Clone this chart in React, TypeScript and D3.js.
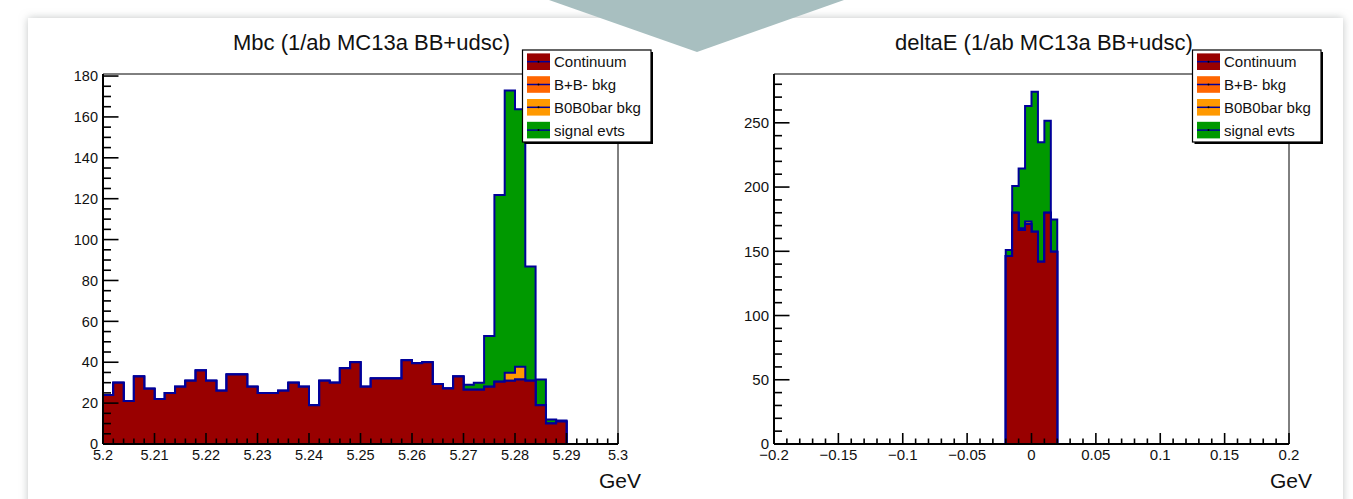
import React from "react";
import * as d3 from "d3";

const W = 1353;
const H = 499;

// ---------------- Mbc histogram (50 bins, 5.20 - 5.30 GeV) ----------------
const mbcRange = [5.2, 5.3];
const mbcBinStart = 5.2;
const mbcBinWidth = 0.002;
const mbcContinuum = [
  24, 30, 21, 33, 27, 22, 25, 28, 31, 36,
  31, 26, 34, 34, 28, 25, 25, 26, 30, 28,
  19, 31, 30, 37, 40, 28, 32, 32, 32, 41,
  39.5, 40, 29.4, 27.2, 33, 26.5, 26.5, 28, 30.5, 31,
  31.6, 31, 19, 10, 11, 0, 0, 0, 0, 0,
];
const mbcBpBm = [
  0, 0, 0, 0, 0, 0, 0, 0, 0, 0,
  0, 0, 0, 0, 0, 0, 0, 0, 0, 0,
  0, 0, 0, 0, 0, 0, 0, 0, 0, 0,
  0, 0, 0, 0, 0, 0, 0, 0, 0, 0,
  0, 0, 0, 0, 0, 0, 0, 0, 0, 0,
];
const mbcB0B0bar = [
  0, 0, 0, 0, 0, 0, 0, 0, 0, 0,
  0, 0, 0, 0, 0, 0, 0, 0, 0, 0,
  0, 0, 0, 0, 0, 0, 0, 0, 0, 0,
  0, 0, 0, 0, 0, 0, 0, 0, 0, 3.9,
  6.2, 0, 0, 0, 0, 0, 0, 0, 0, 0,
];
const mbcSignal = [
  0, 0, 0, 0, 0, 0, 0, 0, 0, 0,
  0, 0, 0, 0, 0, 0, 0, 0, 0, 0,
  0, 0, 0, 0, 0, 0, 0, 0, 0, 0,
  0, 0, 0, 0, 0, 2.5, 3.5, 24.8, 91.3, 138,
  126, 55.8, 12.6, 2, 0.5, 0, 0, 0, 0, 0,
];
const mbcYMax = 181;
const mbcYTicks = [0, 20, 40, 60, 80, 100, 120, 140, 160, 180];
const mbcXTicks = [5.2, 5.21, 5.22, 5.23, 5.24, 5.25, 5.26, 5.27, 5.28, 5.29, 5.3];
const mbcXTickLabels = ["5.2", "5.21", "5.22", "5.23", "5.24", "5.25", "5.26", "5.27", "5.28", "5.29", "5.3"];

// ---------------- deltaE histogram (bins of 0.005 GeV, -0.2 - 0.2) ----------------
const deRange = [-0.2, 0.2];
const deBinStart = -0.02;
const deBinWidth = 0.005;
const deContinuum = [146.3, 180, 166.5, 171.2, 165.2, 141.9, 180, 149.7];
const deBpBm = [0, 0, 0, 0, 0, 0, 0, 0];
const deB0B0bar = [0, 0, 1.5, 2, 0, 0, 0, 0];
const deSignal = [4.7, 20.8, 46.5, 89.8, 109, 92.9, 71.6, 25.1];
const deYMax = 288;
const deYTicks = [0, 50, 100, 150, 200, 250];
const deXTicks = [-0.2, -0.15, -0.1, -0.05, 0, 0.05, 0.1, 0.15, 0.2];
const deXTickLabels = ["\u22120.2", "\u22120.15", "\u22120.1", "\u22120.05", "0", "0.05", "0.1", "0.15", "0.2"];

const legendNames = ["Continuum", "B+B- bkg", "B0B0bar bkg", "signal evts"];
const colors = ["#990000", "#ff6600", "#ff9900", "#009900"];
const OUTLINE = "#000099";
const FONT = "'Liberation Sans', Arial, Helvetica, sans-serif";

type HistProps = {
  frame: { x0: number; x1: number; y0: number; y1: number };
  xRange: number[];
  yMax: number;
  binStart: number;
  binWidth: number;
  series: number[][]; // bottom -> top
  xTicks: number[];
  xTickLabels: string[];
  xMinorStep: number;
  yTicks: number[];
  yMinorStep: number;
  title: string;
  titleX: number;
  legendX: number;
  tickFont: number;
};

function Hist(p: HistProps) {
  const { frame } = p;
  const x = d3.scaleLinear().domain(p.xRange).range([frame.x0, frame.x1]);
  const y = d3.scaleLinear().domain([0, p.yMax]).range([frame.y1, frame.y0]);
  const n = p.series[0].length;

  // cumulative stacks
  const cum: number[][] = [];
  p.series.forEach((s, k) => {
    cum.push(s.map((v, i) => v + (k > 0 ? cum[k - 1][i] : 0)));
  });

  type Pt = { x: number; v: number };
  const pts = (c: number[]): Pt[] => {
    const a: Pt[] = [{ x: p.xRange[0], v: 0 }, { x: p.binStart, v: 0 }];
    c.forEach((v, i) => a.push({ x: p.binStart + i * p.binWidth, v }));
    a.push({ x: p.binStart + n * p.binWidth, v: 0 });
    a.push({ x: p.xRange[1], v: 0 });
    return a;
  };
  const area = d3
    .area<Pt>()
    .x((d) => x(d.x))
    .y0(y(0))
    .y1((d) => y(d.v))
    .curve(d3.curveStepAfter);
  const line = d3
    .line<Pt>()
    .x((d) => x(d.x))
    .y((d) => y(d.v))
    .curve(d3.curveStepAfter);

  const order = [3, 2, 1, 0];

  // ticks
  const xMinorCount = Math.round((p.xRange[1] - p.xRange[0]) / p.xMinorStep);
  const xMinor = d3.range(xMinorCount + 1).map((i) => p.xRange[0] + i * p.xMinorStep);
  const yMinorCount = Math.floor(p.yMax / p.yMinorStep + 1e-9);
  const yMinor = d3.range(yMinorCount + 1).map((i) => i * p.yMinorStep);

  const legend = { x: p.legendX, y: 50, w: 128.5, h: 92 };

  return (
    <g>
      <rect x={frame.x0} y={frame.y0} width={frame.x1 - frame.x0} height={frame.y1 - frame.y0} fill="#fff" />
      {order.map((k) => (
        <g key={k}>
          <path d={area(pts(cum[k])) || ""} fill={colors[k]} stroke="none" />
          <path d={line(pts(cum[k])) || ""} fill="none" stroke={OUTLINE} strokeWidth={2} />
        </g>
      ))}
      {/* frame */}
      <line x1={frame.x0} x2={frame.x1} y1={frame.y0} y2={frame.y0} stroke="#000" strokeWidth={1} />
      <line x1={frame.x1} x2={frame.x1} y1={frame.y0} y2={frame.y1} stroke="#000" strokeWidth={1} />
      {/* y axis */}
      <line x1={frame.x0} x2={frame.x0} y1={frame.y0} y2={frame.y1} stroke="#000" strokeWidth={2} />
      {yMinor.map((v, i) => {
        const major = p.yTicks.some((t) => Math.abs(t - v) < 1e-9);
        return (
          <line key={"ym" + i} x1={frame.x0} x2={frame.x0 + (major ? 15.5 : 8)} y1={y(v)} y2={y(v)} stroke="#000" strokeWidth={1.6} />
        );
      })}
      {p.yTicks.map((t) => (
        <text key={"yl" + t} x={frame.x0 - 5} y={y(t)} dy="0.36em" textAnchor="end" fontFamily={FONT} fontSize={p.tickFont} fill="#111">
          {t}
        </text>
      ))}
      {/* x axis */}
      <line x1={frame.x0} x2={frame.x1} y1={frame.y1} y2={frame.y1} stroke="#000" strokeWidth={2} />
      {xMinor.map((v, i) => {
        const major = p.xTicks.some((t) => Math.abs(t - v) < 1e-9);
        return (
          <line key={"xm" + i} x1={x(v)} x2={x(v)} y1={frame.y1} y2={frame.y1 - (major ? 11 : 5.5)} stroke="#000" strokeWidth={1.6} />
        );
      })}
      {p.xTicks.map((t, i) => (
        <text key={"xl" + i} x={x(t)} y={frame.y1 + 16} textAnchor="middle" fontFamily={FONT} fontSize={p.tickFont} fill="#111">
          {p.xTickLabels[i]}
        </text>
      ))}
      <text x={frame.x1 + 23} y={488} textAnchor="end" fontFamily={FONT} fontSize={21} fill="#111">
        GeV
      </text>
      {/* title */}
      <text x={p.titleX} y={50} textAnchor="middle" fontFamily={FONT} fontSize={22} fill="#111">
        {p.title}
      </text>
      {/* legend */}
      <rect x={legend.x + 2} y={legend.y + 2} width={legend.w} height={legend.h} fill="#000" />
      <rect x={legend.x} y={legend.y} width={legend.w} height={legend.h} fill="#fff" stroke="#000" strokeWidth={1.2} />
      {legendNames.map((name, i) => {
        const cy = 61.7 + i * 22.8;
        return (
          <g key={name}>
            <rect x={legend.x + 4.5} y={cy - 8.3} width={23} height={16.6} fill={colors[i]} />
            <line x1={legend.x + 4.5} x2={legend.x + 27.5} y1={cy} y2={cy} stroke={OUTLINE} strokeWidth={1.5} />
            <circle cx={legend.x + 16} cy={cy} r={1} fill="#000" />
            <text x={legend.x + 31.5} y={cy} dy="0.36em" fontFamily={FONT} fontSize={15} fill="#111">
              {name}
            </text>
          </g>
        );
      })}
    </g>
  );
}

export default function App() {
  return (
    <svg width={W} height={H} style={{ position: "absolute", left: 0, top: 0, background: "#fff" }}>
      <defs>
        <filter id="shadow" x="-5%" y="-10%" width="110%" height="120%">
          <feDropShadow dx={0} dy={0} stdDeviation={4} floodColor="#9a9f9f" floodOpacity={0.6} />
        </filter>
      </defs>
      <rect x={0} y={0} width={W} height={H} fill="#fff" />
      <rect x={28} y={18} width={1315} height={520} fill="#fff" filter="url(#shadow)" />
      <Hist
        frame={{ x0: 103, x1: 618, y0: 74, y1: 444 }}
        xRange={mbcRange}
        yMax={mbcYMax}
        binStart={mbcBinStart}
        binWidth={mbcBinWidth}
        series={[mbcContinuum, mbcBpBm, mbcB0B0bar, mbcSignal]}
        xTicks={mbcXTicks}
        xTickLabels={mbcXTickLabels}
        xMinorStep={0.002}
        yTicks={mbcYTicks}
        yMinorStep={5}
        title="Mbc (1/ab MC13a BB+udsc)"
        titleX={371.5}
        legendX={522.5}
        tickFont={14.5}
      />
      <Hist
        frame={{ x0: 774, x1: 1289, y0: 74, y1: 444 }}
        xRange={deRange}
        yMax={deYMax}
        binStart={deBinStart}
        binWidth={deBinWidth}
        series={[deContinuum, deBpBm, deB0B0bar, deSignal]}
        xTicks={deXTicks}
        xTickLabels={deXTickLabels}
        xMinorStep={0.01}
        yTicks={deYTicks}
        yMinorStep={10}
        title="deltaE (1/ab MC13a BB+udsc)"
        titleX={1044}
        legendX={1192.5}
        tickFont={15}
      />
      <polygon points="549,0 844,0 697,52" fill="#a8bfc0" />
    </svg>
  );
}
